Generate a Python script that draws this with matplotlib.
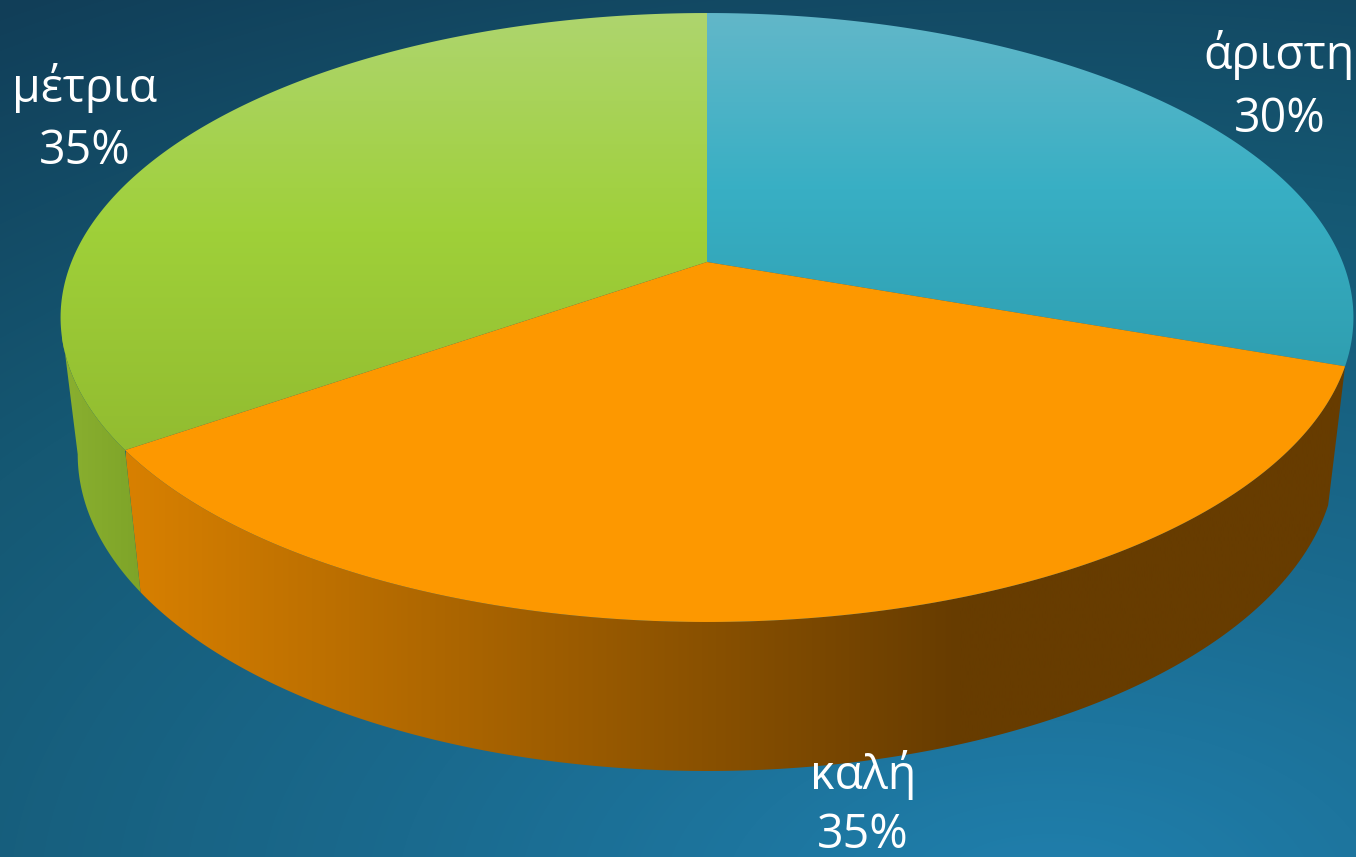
import numpy as np
import matplotlib
matplotlib.use('Agg')
import matplotlib.pyplot as plt
from matplotlib.colors import LinearSegmentedColormap
from matplotlib.patches import Polygon

labels = ['άριστη', 'καλή', 'μέτρια']
values = [30.4, 34.9, 34.7]
W, H = 1356, 857

# perspective of the pie disc, in pixels
CX, CY = 707, 262
A, C, K = -246.6, 0.1823, 635.6
SIDE_S = 0.9735


def top_xy(t):
    # t = clockwise angle from 12 o'clock
    u, v = np.sin(t), np.cos(t)
    d = 1 + C * v
    return np.column_stack([CX + K * u / d, (CY + A * v) / d])


def bottom_xy(t):
    p = top_xy(t)
    # wall is a bit taller at the front than at the sides
    depth = 149 + 0.04 * (p[:, 1] - 622)
    return np.column_stack([CX + SIDE_S * (p[:, 0] - CX), p[:, 1] + depth])


def grad(ax, poly, stops, vertical=True, lo=0, hi=1):
    cmap = LinearSegmentedColormap.from_list('g', stops)
    g = np.linspace(0, 1, 512)
    g = g.reshape(-1, 1) if vertical else g.reshape(1, -1)
    extent = (0, W, hi, lo) if vertical else (lo, hi, H, 0)
    im = ax.imshow(g, cmap=cmap, extent=extent, aspect='auto', zorder=2, interpolation='bilinear')
    patch = Polygon(poly, closed=True, transform=ax.transData, fc='none', ec='none')
    ax.add_patch(patch)
    im.set_clip_path(patch)


fig = plt.figure(figsize=(W / 100, H / 100), dpi=100)
ax = fig.add_axes([0, 0, 1, 1])

# background
yy, xx = np.mgrid[0:H, 0:W]
dist = np.clip(np.hypot((xx - 1050) * 0.55, yy - 900) / 1069, 0, 1)
bg = LinearSegmentedColormap.from_list('bg', ['#2080ae', '#1a6a8e', '#155873', '#113e58'])
ax.imshow(dist, cmap=bg, extent=(0, W, H, 0), aspect='auto', zorder=0, vmin=0, vmax=1)

edges = np.cumsum([0] + values) / sum(values) * 2 * np.pi
a_teal = np.linspace(edges[0], edges[1], 200)
a_orange = np.linspace(edges[1], edges[2], 200)
a_green = np.linspace(edges[2], edges[3], 200)

# where the disc outline turns, left and right
t_sil = np.arccos(-C)

# dark sliver of the teal wall on the right
t_right = np.linspace(t_sil, edges[1], 60)
grad(ax, np.vstack([top_xy(t_right), bottom_xy(t_right)[::-1]]), ['#124e66', '#124e66'])

# side walls
t_side = np.linspace(edges[1], edges[2], 300)
grad(ax, np.vstack([top_xy(t_side), bottom_xy(t_side)[::-1]]),
     [(0, '#d88000'), (0.684, '#673c00'), (1, '#673c00')], vertical=False, lo=126, hi=1345)
t_side2 = np.linspace(edges[2], 2 * np.pi - t_sil, 100)
grad(ax, np.vstack([top_xy(t_side2), bottom_xy(t_side2)[::-1]]),
     ['#8ab030', '#7ea428'], vertical=False, lo=62, hi=141)

# top faces
centre = np.array([[CX, CY]])
grad(ax, np.vstack([centre, top_xy(a_teal)]),
     ['#62b7c9', '#38afc4', '#2f9fb1'], lo=13, hi=366)
grad(ax, np.vstack([centre, top_xy(a_green)]),
     ['#aed56e', '#9fd039', '#92bc30'], lo=13, hi=450)
ax.add_patch(Polygon(np.vstack([centre, top_xy(a_orange)]), closed=True, fc='#fd9800', ec='none', zorder=3))

# labels
font = dict(family=['Open Sans', 'DejaVu Sans'], color='white', fontsize=33.5, ha='center', va='center', zorder=5)
ax.text(1279, 55, labels[0], **font)
ax.text(1280, 119, f'{round(values[0])}%', **font)
ax.text(863, 775, labels[1], **font)
ax.text(863, 835, f'{round(values[1])}%', **font)
ax.text(85, 88, labels[2], **font)
ax.text(85, 151, f'{round(values[2])}%', **font)

ax.set_xlim(0, W)
ax.set_ylim(H, 0)
ax.axis('off')
fig.savefig('out.png', dpi=100)
